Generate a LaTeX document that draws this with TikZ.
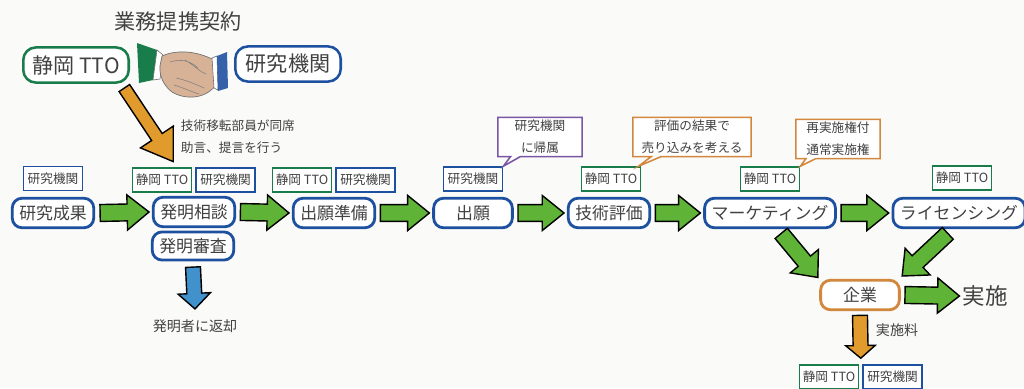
\documentclass[tikz,border=0pt]{standalone}
\usepackage{fontspec}
\setmainfont{Noto Sans CJK JP}
\usetikzlibrary{positioning, calc, arrows.meta, shapes.callouts}

\definecolor{boxblue}{RGB}{30,80,160}
\definecolor{boxgreen}{RGB}{25,125,75}
\definecolor{boxorange}{RGB}{210,135,60}
\definecolor{boxpurple}{RGB}{120,85,165}
\definecolor{arrgreen}{RGB}{95,180,55}
\definecolor{arrorange}{RGB}{225,155,45}
\definecolor{arrblue}{RGB}{65,145,205}
\definecolor{inkgray}{RGB}{65,65,65}
\definecolor{skin}{RGB}{215,178,150}
\definecolor{paper}{RGB}{250,250,248}

\tikzset{
  stage/.style={draw=boxblue, line width=2pt, rounded corners=7pt, fill=white,
    font=\fontsize{12}{14}\selectfont, text=inkgray,
    minimum width=56pt, minimum height=21pt, inner xsep=5pt},
  tag/.style={draw=#1, line width=1.2pt, fill=white,
    font=\fontsize{9}{11}\selectfont, text=inkgray,
    minimum width=42pt, minimum height=17pt, inner sep=1pt},
  party/.style={draw=#1, line width=1.8pt, rounded corners=9pt, fill=white,
    font=\fontsize{15}{18}\selectfont, text=inkgray,
    minimum width=75pt, minimum height=25pt},
  note/.style={rectangle callout, draw=#1, line width=1.1pt, fill=white,
    font=\fontsize{9}{15.5}\selectfont, text=inkgray, align=center,
    inner xsep=5pt, inner ysep=2pt, callout pointer width=7pt},
  plain/.style={font=\fontsize{9}{11}\selectfont, text=inkgray},
  fat/.style={draw=black, line width=1pt, fill=#1, line join=miter},
}

% block arrow from #2 to #3, sizes taken from \bodyw, \headw, \headl
\newcommand\fatarrow[3][arrgreen]{%
  \coordinate (fa-s) at (#2);
  \coordinate (fa-e) at (#3);
  \coordinate (fa-h) at ($(fa-e)!\headl!(fa-s)$);
  \draw[fat=#1] ($(fa-s)!\bodyw!90:(fa-e)$) -- ($(fa-h)!\bodyw!-90:(fa-s)$)
    -- ($(fa-h)!\headw!-90:(fa-s)$) -- (fa-e) -- ($(fa-h)!\headw!90:(fa-s)$)
    -- ($(fa-h)!\bodyw!90:(fa-s)$) -- ($(fa-s)!\bodyw!-90:(fa-e)$) -- cycle;
}

\begin{document}
\begin{tikzpicture}[x=0.025cm, y=-0.025cm, >=Stealth]
    \fill[paper] (0,0) rectangle (1024,388);
    \useasboundingbox (0,0) rectangle (1024,388);

    % partners
    \node[text=inkgray, font=\fontsize{15}{18}\selectfont] (title) at (178,22) {業務提携契約};
    \node[party=boxgreen] (tto-top) at (76,65) {静岡 TTO};
    \node[party=boxblue] (inst-top) at (288,64) {研究機関};

    % handshake
    \fill[boxgreen] (137,43) -- (157,50) -- (153,80) -- (139,83) -- cycle;
    \filldraw[fill=white, draw=black!60, line width=0.4pt] (157,50) -- (163,55) -- (160,79) -- (153,80) -- cycle;
    \filldraw[fill=skin, draw=black!55, line width=0.5pt]
        (162,56) .. controls (175,50) and (195,50) .. (214,60)
        -- (215,86) .. controls (205,99) and (185,100) .. (172,92)
        .. controls (164,86) and (159,76) .. (160,66) -- cycle;
    \draw[black!50, line width=0.4pt] (170,62) .. controls (182,58) and (192,62) .. (198,68)
        (176,78) .. controls (186,80) and (195,84) .. (204,88)
        (174,85) .. controls (184,88) and (192,92) .. (199,94)
        (185,60) .. controls (195,66) and (200,72) .. (206,74);
    \filldraw[fill=white, draw=black!60, line width=0.4pt] (212,58) -- (217,56) -- (218,90) -- (214,88) -- cycle;
    \fill[boxblue!90!white] (217,56) -- (227,52) -- (228,88) -- (218,91) -- cycle;

    % main row
    \node[stage] (res) at (53,213) {研究成果};
    \node[stage, minimum width=58pt] (cons) at (194,212) {発明相談};
    \node[stage, minimum height=20pt] (exam) at (193,246) {発明審査};
    \node[stage, minimum width=58pt] (prep) at (334,213) {出願準備};
    \node[stage] (app) at (473,213) {出願};
    \node[stage, minimum width=58pt] (eval) at (609,213) {技術評価};
    \node[stage] (mkt) at (770,213) {マーケティング};
    \node[stage] (lic) at (959,213) {ライセンシング};
    \node[stage, draw=boxorange] (firm) at (860,295) {企業};
    \node[text=inkgray, font=\fontsize{16}{19}\selectfont, anchor=west] (impl) at (958,296) {実施};

    % who is in charge
    \node[tag=boxblue, above=4pt of res] (t-res) {研究機関};
    \node[tag=boxgreen] (t-cons-tto) at (162,180) {静岡 TTO};
    \node[tag=boxblue, right=2pt of t-cons-tto] (t-cons-inst) {研究機関};
    \node[tag=boxgreen] (t-prep-tto) at (302,180) {静岡 TTO};
    \node[tag=boxblue, right=2pt of t-prep-tto] (t-prep-inst) {研究機関};
    \node[tag=boxblue] (t-app) at (473,179) {研究機関};
    \node[tag=boxgreen] (t-eval) at (611,179) {静岡 TTO};
    \node[tag=boxgreen] (t-mkt) at (770,179) {静岡 TTO};
    \node[tag=boxgreen] (t-lic) at (962,178) {静岡 TTO};
    \node[tag=boxgreen] (t-fee-tto) at (829,377) {静岡 TTO};
    \node[tag=boxblue, right=2pt of t-fee-tto] (t-fee-inst) {研究機関};

    % remarks
    \node[note=boxpurple, minimum width=60pt,
        callout absolute pointer={(t-app.north east)}] (n-app) at (540,137) {研究機関\\に帰属};
    \node[note=boxorange, minimum width=84pt,
        callout absolute pointer={([xshift=-2pt]t-eval.north east)}] (n-eval) at (692,137) {評価の結果で\\売り込みを考える};
    \node[note=boxorange, minimum width=60pt,
        callout absolute pointer={(t-mkt.north east)}] (n-mkt) at (838,139) {再実施権付\\通常実施権};

    \node[plain, anchor=west] (sit-in) at (176,126) {技術移転部員が同席};
    \node[plain, anchor=west] (advice) at (176,148) {助言、提言を行う};
    \node[plain, font=\fontsize{10}{12}\selectfont] (ret) at (195,326) {発明者に返却};
    \node[plain, font=\fontsize{10}{12}\selectfont, anchor=west] (fee) at (871,330) {実施料};

    % flow
    \def\bodyw{6pt}\def\headw{12.5pt}\def\headl{15.5pt}
    \fatarrow{[xshift=3.5pt]res.east}{[xshift=-2pt]cons.west}
    \fatarrow{[xshift=3pt]cons.east}{[xshift=-2pt]prep.west}
    \fatarrow{[xshift=3pt]prep.east}{[xshift=-2pt]app.west}
    \fatarrow{[xshift=3pt]app.east}{[xshift=-2pt]eval.west}
    \fatarrow{[xshift=3pt]eval.east}{[xshift=-2pt]mkt.west}
    \fatarrow{[xshift=3pt]mkt.east}{[xshift=-2pt]lic.west}
    \fatarrow{[xshift=3pt]firm.east}{[xshift=1pt]impl.west}
    \def\bodyw{5.7pt}\def\headw{13pt}\def\headl{15pt}
    \fatarrow{[xshift=8pt,yshift=-3pt]mkt.south}{[xshift=-1pt,yshift=1pt]firm.north west}
    \fatarrow{[xshift=-8pt,yshift=-3pt]lic.south}{[xshift=1pt,yshift=2pt]firm.north east}

    \def\bodyw{4.5pt}\def\headw{14pt}\def\headl{21pt}
    \fatarrow[arrorange]{[xshift=-4pt,yshift=-3pt]tto-top.south east}{[xshift=8pt,yshift=4pt]t-cons-tto.north}

    \def\bodyw{5.3pt}\def\headw{11.5pt}\def\headl{11pt}
    \fatarrow[arrblue]{[yshift=-4pt]exam.south}{[yshift=4pt]ret.north}
    \def\bodyw{5.3pt}\def\headw{10.5pt}\def\headl{9pt}
    \fatarrow[arrorange]{[yshift=-3pt]firm.south}{$(t-fee-tto.north east)!.5!(t-fee-inst.north west)+(0,-6)$}
\end{tikzpicture}
\end{document}
